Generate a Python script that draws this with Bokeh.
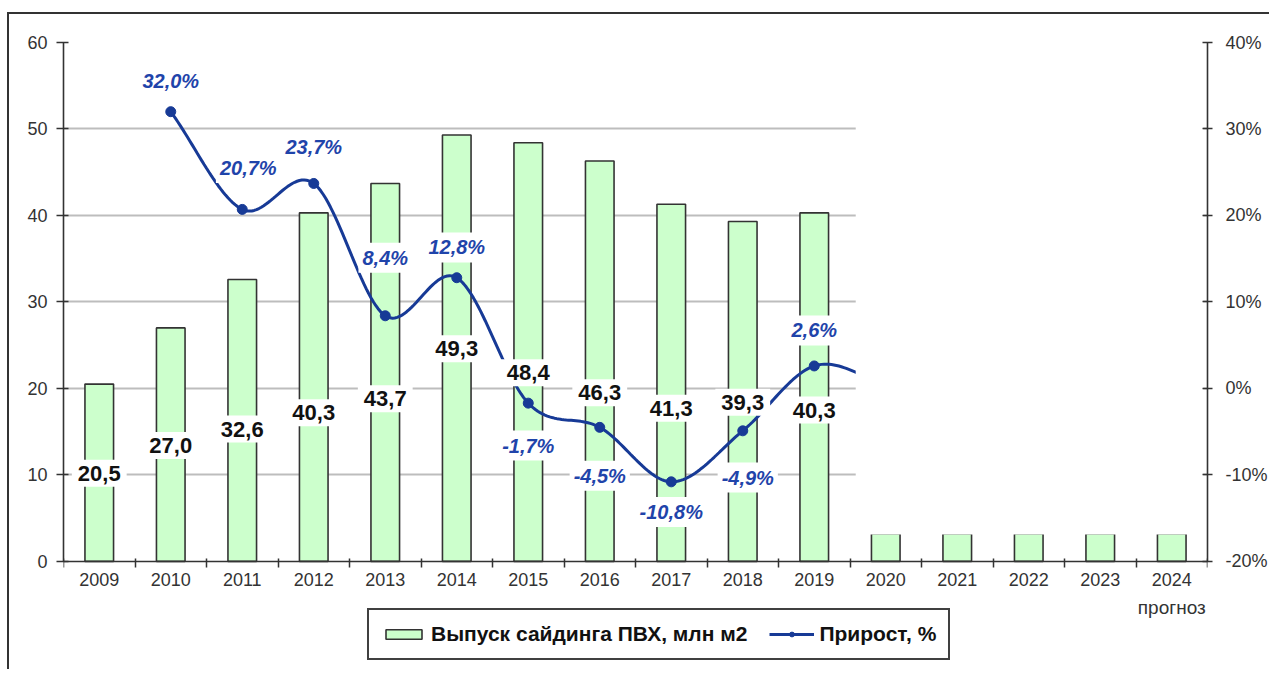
import numpy as np
from bokeh.plotting import figure
from bokeh.models import (Range1d, LinearAxis, FixedTicker, PrintfTickFormatter, Legend,
                          LegendItem, ColumnDataSource)
from bokeh.core.properties import value
from bokeh.embed import file_html
from bokeh.resources import INLINE

# ---------------- data ----------------
years = ["2009", "2010", "2011", "2012", "2013", "2014", "2015", "2016",
         "2017", "2018", "2019", "2020", "2021", "2022", "2023", "2024"]
# output of PVC siding, mln m2 (2020-2024 are hidden in the source: only short stubs show)
output = [20.5, 27.0, 32.6, 40.3, 43.7, 49.3, 48.4, 46.3, 41.3, 39.3, 40.3,
          3.2, 3.2, 3.2, 3.2, 3.2]
labelled_years = years[:11]
growth_years = ["2010", "2011", "2012", "2013", "2014", "2015", "2016", "2017", "2018", "2019"]
growth = [32.0, 20.7, 23.7, 8.4, 12.8, -1.7, -4.5, -10.8, -4.9, 2.6]
# 2020 growth is hidden in the source; only the start of the line towards it is visible
growth_tail_year = "2020"
growth_tail = 0.5
forecast_year = "2024"
forecast_note = "прогноз"
y_ticks = [0, 10, 20, 30, 40, 50, 60]
pct_ticks = [-20, -10, 0, 10, 20, 30, 40]
bar_name = "Выпуск сайдинга ПВХ, млн м2"
line_name = "Прирост, %"

# ---------------- label placement (positions only) ----------------
bar_label_y = [10.2, 13.4, 15.3, 17.2, 18.8, 24.6, 21.8, 19.5, 17.7, 18.4, 17.5]
pct_label_y = [35.6, 25.5, 27.9, 15.1, 16.3, -6.6, -10.1, -14.3, -10.3, 6.7]
pct_label_dx = [0, 6, 0, 0, 0, 0, 0, 0, 5, 0]

FONT = "Liberation Sans"
BLUE_LINE = "#173a96"
BLUE_TXT = "#1f44aa"
AX = "#333333"

# frame extends below the value axis so that the x labels and legend live inside it
BELOW_UNITS = 12.5
PX_PER_UNIT = 519 / 60


def fmt(v, suffix=""):
    return f"{v:.1f}".replace(".", ",") + suffix


xc = {y: i + 0.5 for i, y in enumerate(years)}


def smooth(xs, ys, n=30):
    xs = np.asarray(xs, float)
    ys = np.asarray(ys, float)
    k = len(ys)
    m = np.zeros(k)
    for i in range(k):
        if i == 0:
            m[i] = ys[1] - ys[0]
        elif i == k - 1:
            m[i] = ys[-1] - ys[-2]
        else:
            m[i] = (ys[i + 1] - ys[i - 1]) / 2
    ox, oy = [], []
    for i in range(k - 1):
        t = np.linspace(0, 1, n, endpoint=(i == k - 2))
        h00 = 2 * t**3 - 3 * t**2 + 1
        h10 = t**3 - 2 * t**2 + t
        h01 = -2 * t**3 + 3 * t**2
        h11 = t**3 - t**2
        ox.extend(xs[i] + (xs[i + 1] - xs[i]) * t)
        oy.extend(h00 * ys[i] + h10 * m[i] + h01 * ys[i + 1] + h11 * m[i + 1])
    return ox, oy


y0 = y_ticks[0] - BELOW_UNITS
p = figure(frame_width=1144, frame_height=int(round((y_ticks[-1] - y0) * PX_PER_UNIT)),
           x_range=Range1d(0, len(years)), y_range=Range1d(y0, y_ticks[-1]),
           output_backend="svg", toolbar_location=None,
           min_border_left=54, min_border_right=62, min_border_top=28, min_border_bottom=0)
p.extra_y_ranges = {"pct": Range1d(pct_ticks[0] - BELOW_UNITS, pct_ticks[-1])}
p.outline_line_color = None
p.background_fill_color = "white"
p.border_fill_color = "white"
p.styles = {"border-top": "2px solid #333333", "border-left": "2px solid #333333",
            "margin-top": "12px", "margin-left": "7px"}

p.xgrid.visible = False
p.ygrid.ticker = FixedTicker(ticks=y_ticks[1:])
p.ygrid.grid_line_color = "#bdbdbd"
p.ygrid.grid_line_width = 2

# bars
bars = p.vbar(x=[xc[y] for y in years], top=output, width=0.4,
              fill_color="#ccffcc", line_color=AX, line_width=1.6)

# growth line (smoothed) + markers
lx, ly = smooth([xc[y] for y in growth_years + [growth_tail_year]], growth + [growth_tail])
line_r = p.line(lx, ly, y_range_name="pct", line_color=BLUE_LINE, line_width=3)
pts = p.scatter([xc[y] for y in growth_years], growth, y_range_name="pct", size=10,
                fill_color=BLUE_LINE, line_color=BLUE_LINE)

# white mask over the hidden forecast part (as in the source)
first_hidden = years.index(growth_tail_year)
p.quad(left=first_hidden + 0.5 - 0.42, right=len(years) - 0.06,
       bottom=output[first_hidden] - 0.1, top=59.5,
       fill_color="white", line_color=None)

# bar value labels
bsrc = ColumnDataSource(dict(x=[xc[y] for y in labelled_years], y=bar_label_y,
                             t=[fmt(v) for v in output[:len(labelled_years)]]))
p.text(x="x", y="y", text="t", source=bsrc, text_font=value(FONT), text_font_style="bold",
       text_font_size="22px", text_color="#111111", text_align="center", text_baseline="middle",
       background_fill_color="white", padding=6)

# growth labels
gsrc = ColumnDataSource(dict(x=[xc[y] for y in growth_years], y=pct_label_y,
                             t=[fmt(v, "%") for v in growth], dx=pct_label_dx))
p.text(x="x", y="y", text="t", x_offset="dx", source=gsrc, y_range_name="pct",
       text_font=value(FONT), text_font_style="bold italic", text_font_size="20px",
       text_color=BLUE_TXT, text_align="center", text_baseline="middle",
       background_fill_color="white", padding=4)

# axes
xa = p.xaxis[0]
xa.fixed_location = 0
xa.ticker = FixedTicker(ticks=[xc[y] for y in years], minor_ticks=list(range(len(years) + 1)))
xa.major_label_overrides = {xc[y]: y for y in years}
xa.major_tick_line_color = None
xa.major_tick_out = 5
xa.minor_tick_line_color = AX
xa.minor_tick_line_width = 1.5
xa.minor_tick_in = 3
xa.minor_tick_out = 6
xa.axis_line_color = AX
xa.axis_line_width = 1.6
xa.major_label_standoff = 6
xa.major_label_text_font = FONT
xa.major_label_text_font_size = "18px"
xa.major_label_text_color = AX

# second row of x labels: the "forecast" note under 2024
xa2 = LinearAxis(ticker=FixedTicker(ticks=[xc[forecast_year]], minor_ticks=[]))
xa2.fixed_location = 0
xa2.major_label_overrides = {xc[forecast_year]: forecast_note}
xa2.axis_line_color = None
xa2.major_tick_line_color = None
xa2.minor_tick_line_color = None
xa2.major_tick_in = 0
xa2.major_tick_out = 0
xa2.major_label_standoff = 36
xa2.major_label_text_font = FONT
xa2.major_label_text_font_size = "19px"
xa2.major_label_text_color = AX
p.add_layout(xa2, "below")

ya = p.yaxis[0]
ya.ticker = FixedTicker(ticks=y_ticks)
ya.bounds = (y_ticks[0], y_ticks[-1])
ya.minor_tick_line_color = None
ya.major_tick_in = 5
ya.major_tick_out = 7
ya.major_tick_line_color = AX
ya.major_tick_line_width = 1.5
ya.axis_line_color = AX
ya.axis_line_width = 1.6
ya.major_label_standoff = 9
ya.major_label_text_font = FONT
ya.major_label_text_font_size = "18px"
ya.major_label_text_color = AX

ra = LinearAxis(y_range_name="pct", ticker=FixedTicker(ticks=pct_ticks),
                formatter=PrintfTickFormatter(format="%d%%"))
ra.bounds = (pct_ticks[0], pct_ticks[-1])
ra.minor_tick_line_color = None
ra.major_tick_in = 5
ra.major_tick_out = 5
ra.major_tick_line_color = AX
ra.major_tick_line_width = 1.5
ra.axis_line_color = AX
ra.axis_line_width = 1.6
ra.major_label_standoff = 13
ra.major_label_text_font = FONT
ra.major_label_text_font_size = "18px"
ra.major_label_text_color = AX
p.add_layout(ra, "right")

legend = Legend(items=[LegendItem(label=bar_name, renderers=[bars]),
                       LegendItem(label=line_name, renderers=[line_r, pts])],
                location=(304, 9), orientation="horizontal",
                label_text_font=FONT, label_text_font_style="bold", label_text_font_size="21px",
                label_text_color="#111111", glyph_width=45, glyph_height=12,
                label_standoff=5, spacing=22, padding=12, margin=0,
                border_line_color="#404040", border_line_width=2, border_line_alpha=1.0,
                background_fill_color="white", background_fill_alpha=1.0)
p.add_layout(legend)

open("out.html", "w").write(file_html(p, INLINE))
